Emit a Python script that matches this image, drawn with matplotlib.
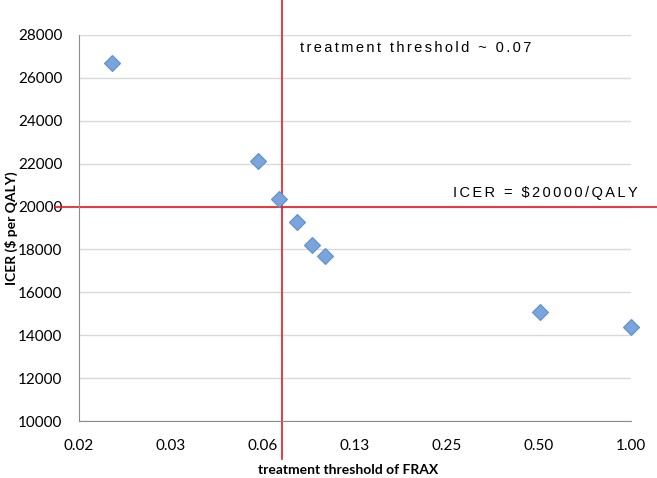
import matplotlib
matplotlib.use('Agg')
import matplotlib.pyplot as plt
from matplotlib.ticker import FixedLocator, FixedFormatter

# FRAX treatment threshold vs ICER
frax_threshold = [0.0200, 0.0600, 0.0707, 0.0808, 0.0903, 0.0998, 0.504, 1.00]
icer = [26680, 22110, 20350, 19260, 18190, 17710, 15070, 14400]

x_ticks = [2 ** -6, 2 ** -5, 2 ** -4, 2 ** -3, 2 ** -2, 2 ** -1, 1.0]
x_tick_labels = ['0.02', '0.03', '0.06', '0.13', '0.25', '0.50', '1.00']
y_ticks = [10000, 12000, 14000, 16000, 18000, 20000, 22000, 24000, 26000, 28000]

treat_line = 0.0722
icer_line = 20000


def spaced(s):
    # letter spacing via six-per-em spaces
    return '\u2006'.join(s)


fig = plt.figure(figsize=(6.57, 4.78), dpi=100)
ax = fig.add_axes([0.1202, 0.1192, 0.8402, 0.8076])

ax.set_xscale('log', base=2)
ax.set_xlim(2 ** -6, 1.0)
ax.set_ylim(10000, 28000)
ax.xaxis.set_major_locator(FixedLocator(x_ticks))
ax.xaxis.set_major_formatter(FixedFormatter(x_tick_labels))
ax.xaxis.set_minor_locator(FixedLocator([]))
ax.set_yticks(y_ticks)

ax.grid(axis='y', color='#d9d9d9', linewidth=1)
ax.set_axisbelow(True)
for s in ['top', 'right']:
    ax.spines[s].set_visible(False)
ax.spines['left'].set_color('#8c8c8c')
ax.spines['bottom'].set_color('#8c8c8c')
ax.tick_params(length=0, labelsize=11, colors='black')
ax.tick_params(axis='x', pad=13)
ax.tick_params(axis='y', pad=12)
for lab in ax.get_xticklabels() + ax.get_yticklabels():
    lab.set_family('Lato')

# red threshold lines extending past the plot area
ax.plot([treat_line, treat_line], [28000 + 35 / 21.44 * 1000, 10000 - 38 / 21.44 * 1000],
        color='#e8191c', linewidth=1.2, clip_on=False, zorder=2)
ax.plot([2 ** (-6 - 24 / 92), 2 ** (26 / 92)], [icer_line, icer_line],
        color='#e8191c', linewidth=1.2, clip_on=False, zorder=2)

ax.plot(frax_threshold, icer, linestyle='none', marker='D', markersize=8.5,
        markerfacecolor='#79a5dc', markeredgecolor='#5f8fcc', markeredgewidth=0.8,
        clip_on=False, zorder=3)

fig.text(300 / 657, 1 - 48 / 478, spaced('treatment threshold ~ 0.07'), fontsize=10.5,
         family=['Liberation Sans', 'DejaVu Sans'], va='center', ha='left')
fig.text(638 / 657, 1 - 193 / 478, spaced('ICER = $20000/QALY'), fontsize=10.5,
         family=['Liberation Sans', 'DejaVu Sans'], va='center', ha='right')

ax.set_xlabel('treatment threshold of FRAX', fontsize=10, fontweight='bold',
              family='Lato', va='center')
ax.set_ylabel('ICER ($ per QALY)', fontsize=10, fontweight='bold',
              family='Lato', va='center')
ax.xaxis.set_label_coords((348 - 79) / 552, (421 - 470) / 386)
ax.yaxis.set_label_coords((11 - 79) / 552, (421 - 228) / 386)

fig.savefig('out.png', dpi=100, facecolor='white')
